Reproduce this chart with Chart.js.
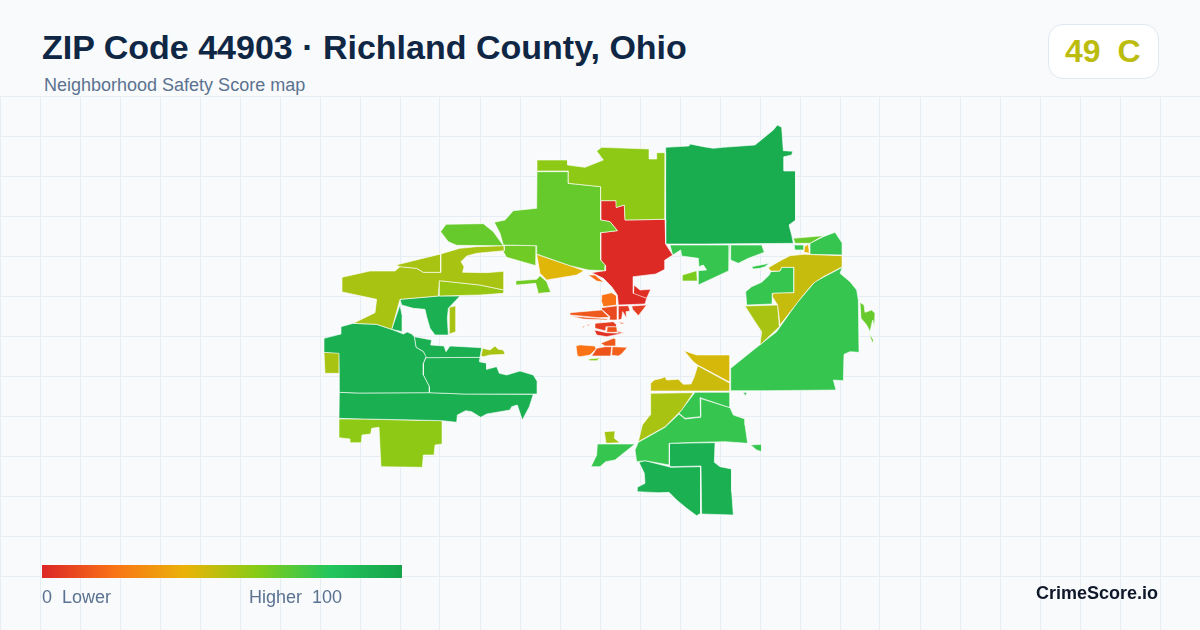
<!DOCTYPE html>
<html><head><meta charset="utf-8">
<script src="https://cdn.jsdelivr.net/npm/chart.js@4/dist/chart.umd.min.js"></script>
<style>
html,body{margin:0;padding:0;background:#f8fafc;width:1200px;height:630px;overflow:hidden;font-family:"Liberation Sans",Arial,sans-serif}
#wrap{position:absolute;left:0;top:96px;width:1200px;height:534px}
.t{position:absolute;white-space:pre;line-height:1}
#title{left:42px;top:30px;font-size:34px;font-weight:700;color:#0f2744}
#sub{left:44px;top:76px;font-size:18px;color:#5b7290}
#badge{position:absolute;left:1048px;top:24px;width:109px;height:53px;background:#fff;border:1px solid #e2e8f0;border-radius:15px}
#score{left:1065px;top:35px;font-size:32px;font-weight:700;color:#bcbc0f;word-spacing:-0.5px}
#bar{position:absolute;left:42px;top:565px;width:360px;height:13px;background:linear-gradient(90deg,#dc2626 0%,#f97316 20%,#eab308 40%,#84cc16 60%,#22c55e 80%,#16a34a 100%)}
#lo{left:42px;top:588px;font-size:18px;color:#5b7290}
#hi{left:249px;top:588px;font-size:18px;color:#5b7290}
#brand{right:42px;top:584px;font-size:18px;font-weight:700;color:#0f172a}
</style></head><body>
<div id="wrap"><canvas id="c" width="1200" height="534"></canvas></div>
<div class="t" id="title"></div><div class="t" id="sub"></div>
<div id="badge"></div><div class="t" id="score"></div>
<div id="bar"></div><div class="t" id="lo"></div><div class="t" id="hi"></div><div class="t" id="brand"></div>
<script>
const titleText="ZIP Code 44903 · Richland County, Ohio";
const subtitleText="Neighborhood Safety Score map";
const overallScore="49  C";
const legendLow="0  Lower";
const legendHigh="Higher  100";
const brandText="CrimeScore.io";
const scaleStops=[0,20,40,60,80,100];
const scaleColors=[[220,38,38],[249,115,22],[234,179,8],[132,204,22],[34,197,94],[22,163,74]];

// Tract outlines by survey sheet: [safety score, [x,y, x,y, ...]] in sheet units (1/3 map unit).
const westOrigin=[320,210];
const westTracts=[
[66,[362,65,378,43,490,41,520,65,545,100,551,107,410,106,385,95]],
[53,[228,165,362,132,362,187,310,187,290,175,240,170]],
[53,[362,132,385,125,420,115,470,110,552,107,553,122,470,130,440,138,423,155,432,170,428,187,500,188,552,184,552,240,480,225,358,212,355,258,240,268,215,358,170,343,100,340,165,308,170,268,63,245,66,202,150,183,225,183,240,170,290,175,310,187,362,187]],
[56,[358,212,480,225,552,240,550,250,480,255,358,258]],
[92,[240,268,355,258,420,258,385,295,382,325,385,375,345,375,330,355,320,320,315,298,280,295,245,285]],
[92,[240,285,247,320,247,365,215,358]],
[53,[388,292,408,287,408,365,388,372]],
[93,[12,385,63,372,63,350,100,340,170,343,215,358,250,372,262,366,275,372,283,380,288,412,310,425,318,440,310,460,310,495,328,530,328,548,115,549,58,547,58,505,57,430,12,427]],
[53,[12,427,58,427,57,490,15,490]],
[93,[283,380,335,390,332,405,372,408,378,425,390,408,485,413,480,442,318,443,310,425,288,412]],
[93,[318,443,480,442,478,455,500,460,500,478,530,470,538,490,560,495,600,483,640,495,652,515,652,552,432,552,328,548,328,530,310,495,310,460]],
[93,[58,547,115,549,328,548,432,552,640,553,628,590,607,630,592,585,575,590,570,600,500,612,482,622,455,605,437,602,412,615,410,637,367,632,288,630,133,627,57,625]],
[58,[57,627,133,627,288,631,367,632,367,702,345,705,342,735,310,735,307,772,183,770,177,652,155,655,152,672,126,675,124,698,90,698,90,687,57,683]],
[53,[483,437,488,415,510,420,525,408,535,418,550,420,555,433,510,435,490,440]]
];
const northOrigin=[490,120];
const northTracts=[
[58,[141,120,233,120,233,135,285,142,340,120,320,93,335,82,478,87,478,117,500,117,500,98,527,98,525,298,405,300,403,255,380,262,378,242,332,242,332,200,235,190,235,153,141,153]],
[66,[141,155,235,155,235,190,332,200,332,300,360,305,382,332,332,338,332,420,347,437,345,452,295,450,240,437,140,402,140,377,40,375,30,340,13,307,45,300,70,272,140,265]],
[64,[40,376,140,377,138,437,50,412,40,395]],
[1,[332,242,378,242,380,262,403,255,405,300,525,298,527,372,548,405,525,420,525,448,497,462,430,470,430,520,470,535,465,552,385,555,382,525,365,500,340,475,305,458,345,452,347,437,332,420,332,338,382,332,360,305,332,300]],
[2,[432,495,450,510,482,508,470,535,430,525]],
[42,[140,403,240,437,282,452,260,465,170,480,150,460]],
[94,[527,82,597,78,600,72,640,80,670,85,700,82,795,75,850,30,862,15,875,22,880,92,908,94,905,105,882,110,882,153,917,153,917,300,897,315,905,345,910,370,640,372,527,372]],
[76,[540,375,720,375,717,452,625,495,625,452,650,450,640,435,627,440,625,415,575,408,572,390,548,405]],
[76,[722,375,815,375,823,397,775,415,745,430,722,420]],
[62,[577,465,620,452,622,483,577,483]],
[64,[78,482,140,478,150,467,170,485,182,517,145,520,137,490,80,495]],
[35,[142,517,157,517,157,521,142,521]],
[19,[295,465,315,465,342,487,320,483]],
[20,[335,525,365,518,380,528,380,555,340,560,333,540]],
[13,[240,578,335,570,358,592,325,593,240,585]],
[11,[240,588,325,595,355,597,350,600,280,597]],
[9,[335,563,382,557,382,600,358,600,360,590,335,568]],
[5,[385,558,415,557,420,573,408,575,410,595,398,575,395,597,385,600]],
[6,[425,558,470,555,445,587,428,568]],
[10,[385,605,405,610,395,612]],
[10,[277,620,285,617,280,623]],
[10,[290,615,300,612,295,618]],
[6,[315,610,370,605,380,615,380,620,350,620,348,633,315,625]],
[3,[313,630,350,638,400,640,350,650,320,645]],
[12,[352,620,380,620,382,637,350,637]],
[8,[382,633,405,640,385,640]],
[13,[332,670,370,655,378,657,378,678,345,678]],
[20,[258,678,268,675,275,675,315,678,318,687,300,705,272,710,262,708]],
[12,[320,685,345,680,365,680,362,708,305,708]],
[15,[367,680,412,682,395,702,385,708,365,706]],
[60,[295,717,330,714,320,722,300,722]]
];
const eastOrigin=[680,225];
const eastTracts=[
[66,[340,40,430,32,390,55,345,55]],
[76,[430,35,465,22,487,55,487,90,390,88,390,55]],
[76,[342,60,372,60,372,75,345,75]],
[41,[372,65,385,58,388,85,375,82]],
[47,[265,128,305,105,330,92,372,88,487,92,487,125,430,155,400,175,370,210,300,300,293,240,277,215,278,205,342,203,342,127,305,127,300,138,272,138]],
[76,[272,140,300,138,305,127,342,127,342,203,278,205,277,237,200,240,197,200,215,185,245,172,268,150]],
[76,[215,125,268,115,255,125,240,130,220,132]],
[53,[195,243,293,240,298,305,240,360,245,320,225,290]],
[76,[152,430,220,375,290,320,350,235,405,170,487,127,480,145,510,170,530,195,535,225,537,382,510,380,492,388,490,467,460,465,468,495,260,497,152,497]],
[66,[540,232,552,240,555,262,575,255,585,265,583,305,578,285,570,320,560,300,543,280]],
[66,[568,325,580,345,578,355,572,340]],
[92,[190,503,200,503,197,512]]
];
const southOrigin=[585,345];
const southTracts=[
[44,[297,17,335,30,435,30,435,112,338,60,325,50]],
[46,[338,62,435,115,435,138,197,138,197,115,208,105,230,100,240,95,245,105,280,103,295,118,318,117,328,95]],
[53,[197,145,325,143,290,195,240,245,160,290,172,240,195,210]],
[76,[330,142,435,142,435,188,345,158,347,215,300,220,282,205]],
[76,[282,207,300,222,347,217,345,160,435,188,445,210,480,222,480,240,488,295,420,290,300,293,253,295,253,360,180,347,155,350,150,315,160,292,240,247]],
[92,[253,295,390,293,388,352,405,365,440,372,440,440,445,510,350,507,348,363,258,365,253,360]],
[92,[162,352,180,347,258,367,347,365,347,505,335,512,305,490,275,465,252,442,220,443,158,440,157,427,180,415,178,385]],
[76,[37,297,150,297,90,345,62,350,45,365,18,365,35,330]],
[54,[58,260,90,258,88,280,105,293,63,295]],
[76,[497,300,530,298,530,320,515,315]],
[76,[475,142,485,142,482,152]]
];
const sheets=[[westOrigin,westTracts],[northOrigin,northTracts],[eastOrigin,eastTracts],[southOrigin,southTracts]];
const headerHeight=96;

function colorFor(s){
  let i=0; while(i<scaleStops.length-2 && s>scaleStops[i+1]) i++;
  const f=(s-scaleStops[i])/(scaleStops[i+1]-scaleStops[i]);
  const c=scaleColors[i].map((v,k)=>Math.round(v+(scaleColors[i+1][k]-v)*f));
  return `rgb(${c[0]},${c[1]},${c[2]})`;
}
document.getElementById('title').textContent=titleText;
document.getElementById('sub').textContent=subtitleText;
document.getElementById('score').textContent=overallScore;
document.getElementById('lo').textContent=legendLow;
document.getElementById('hi').textContent=legendHigh;
document.getElementById('brand').textContent=brandText;

const datasets=[];
sheets.forEach(([o,tracts])=>tracts.forEach(([score,p])=>{
  const data=[];
  for(let i=0;i<p.length;i+=2) data.push({x:o[0]+p[i]/3,y:o[1]+p[i+1]/3-headerHeight});
  data.push(data[0]);
  datasets.push({data,showLine:true,fill:'shape',tension:0,backgroundColor:colorFor(score),
    borderColor:'#ffffff',borderWidth:0.6,borderJoinStyle:'round',pointRadius:0,pointHoverRadius:0});
}));
new Chart(document.getElementById('c'),{
  type:'scatter',
  data:{datasets},
  options:{
    responsive:false,animation:false,events:[],
    layout:{padding:0},
    plugins:{legend:{display:false},tooltip:{enabled:false},title:{display:false}},
    scales:{
      x:{type:'linear',min:0,max:1200,ticks:{display:false,stepSize:40},border:{display:false},
         grid:{color:'#e6eef3',lineWidth:1,drawTicks:false}},
      y:{type:'linear',reverse:true,min:0,max:534,ticks:{display:false,stepSize:40},border:{display:false},
         grid:{color:'#e6eef3',lineWidth:1,drawTicks:false},
         afterBuildTicks(s){s.ticks=s.ticks.filter(t=>t.value%40===0);}}
    }
  }
});
</script></body></html>
